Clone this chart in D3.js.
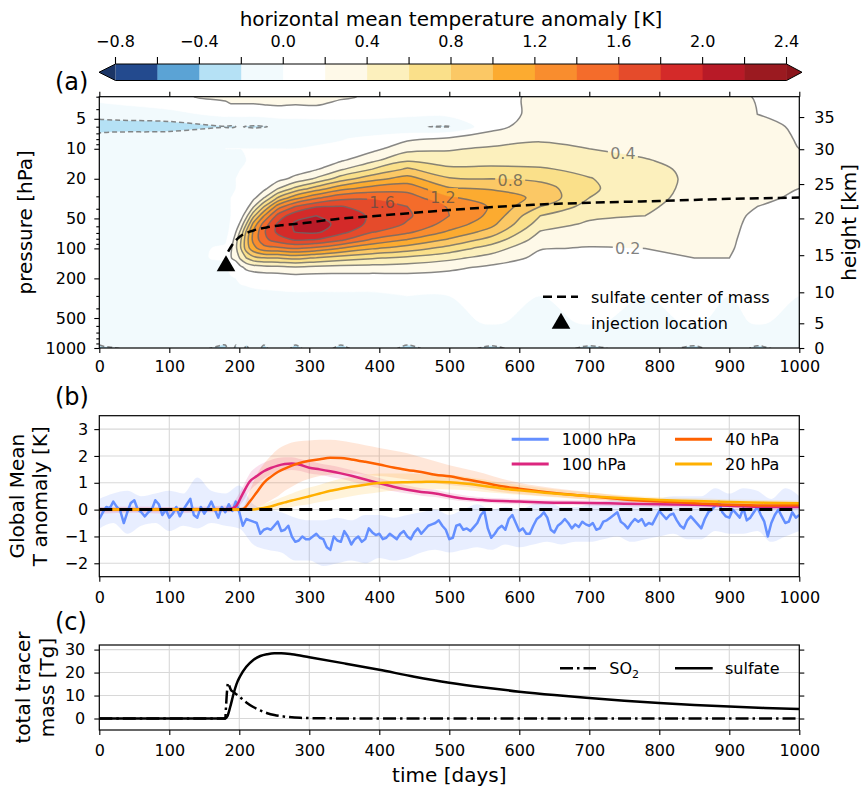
<!DOCTYPE html>
<html><head><meta charset="utf-8">
<script src="https://cdn.jsdelivr.net/npm/d3@7"></script>
<style>
body{margin:0;background:#fff;}
svg{display:block;font-family:"DejaVu Sans",sans-serif;}
</style></head><body>
<svg id="fig" width="862" height="789"></svg>
<script>
// ================= DATA =================
// colour bar
const cbBoundaries = [-0.8,-0.6,-0.4,-0.2,0.0,0.2,0.4,0.6,0.8,1.0,1.2,1.4,1.6,1.8,2.0,2.2,2.4];
const cbColors = ["#234a8e","#5ba3d5","#b5e1f5","#f2fafd","#ffffff","#fef9e8","#fcf0bd","#fae08a",
                  "#fbc865","#fcab30","#f98d2e","#f46c2b","#e54b2b","#d42a29","#b81a27","#9b1a20"];
const cbUnderColor = "#1b3566", cbOverColor = "#8b141b";
const cbLabelValues = [-0.8,-0.4,0.0,0.4,0.8,1.2,1.6,2.0,2.4];

// panel (a): horizontal-mean temperature anomaly, columns = days, rows = pressure levels
const tempDays = [0,100,180,188,195,202,210,220,235,255,280,310,345,390,440,500,560,630,700,780,850,900,940,1000];
const tempLevels = [3,4.5,6,8,10,13,16,20,25,31,38,47,57,68,82,100,125,155,200,300,550,1000];
const tempAnomaly = [
 [0.05,-0.1,-0.35,-0.05,0.0,-0.02,0.0,-0.03,-0.05,-0.03,-0.05,-0.04,-0.05,-0.05,-0.06,-0.05,-0.04,-0.06,-0.05,-0.06,-0.05,-0.22],
 [0.16,-0.06,-0.3,-0.04,-0.02,0.0,-0.03,-0.05,-0.03,-0.04,-0.05,-0.06,-0.05,-0.04,-0.05,-0.06,-0.05,-0.05,-0.06,-0.05,-0.06,-0.14],
 [0.25,0.05,-0.21,-0.03,0.0,-0.02,-0.03,-0.04,-0.04,-0.05,-0.04,-0.05,-0.04,-0.03,-0.02,0.02,0.02,-0.03,-0.05,-0.06,-0.05,-0.22],
 [0.3,0.05,-0.22,-0.03,0.0,-0.02,-0.02,-0.02,-0.01,0.0,0.0,0.0,0.01,0.02,0.06,0.17,0.19,0.06,-0.02,-0.05,-0.05,-0.15],
 [0.3,0.05,-0.2,-0.03,0.0,-0.01,-0.01,0.0,0.0,0.0,0.01,0.02,0.07,0.19,0.32,0.36,0.26,0.07,0.0,-0.04,-0.05,-0.22],
 [0.3,0.05,-0.19,-0.03,0.0,-0.01,0.0,0.0,0.0,0.01,0.03,0.1,0.26,0.45,0.58,0.59,0.44,0.16,0.02,-0.04,-0.05,-0.14],
 [0.3,0.05,-0.21,-0.02,0.0,0.0,0.0,0.0,0.0,0.02,0.11,0.33,0.6,0.83,0.91,0.89,0.6,0.25,0.03,-0.04,-0.05,-0.22],
 [0.3,0.05,-0.22,-0.02,0.0,0.0,0.0,0.0,0.03,0.14,0.37,0.74,1.06,1.22,1.25,1.13,0.73,0.3,0.05,-0.04,-0.05,-0.15],
 [0.32,0.06,-0.21,-0.02,0.0,0.0,0.0,0.03,0.14,0.39,0.79,1.19,1.48,1.57,1.54,1.32,0.79,0.33,0.07,-0.04,-0.05,-0.22],
 [0.33,0.08,-0.17,-0.02,0.0,0.0,0.03,0.13,0.39,0.81,1.3,1.67,1.83,1.85,1.7,1.35,0.8,0.35,0.07,-0.03,-0.05,-0.14],
 [0.3,0.08,-0.15,-0.02,0.0,0.02,0.09,0.26,0.65,1.13,1.6,1.94,2.03,2.01,1.82,1.41,0.85,0.38,0.1,-0.03,-0.05,-0.22],
 [0.3,0.1,-0.16,-0.02,0.01,0.05,0.18,0.43,0.89,1.36,1.79,2.0,2.06,2.04,1.79,1.34,0.78,0.35,0.09,-0.03,-0.05,-0.15],
 [0.22,0.1,-0.15,-0.01,0.04,0.17,0.37,0.7,1.13,1.54,1.81,1.94,1.96,1.87,1.64,1.19,0.7,0.33,0.1,-0.03,-0.05,-0.22],
 [0.18,0.08,-0.14,0.05,0.14,0.35,0.6,0.93,1.28,1.57,1.72,1.76,1.74,1.62,1.37,1.02,0.62,0.32,0.1,-0.03,-0.05,-0.14],
 [0.17,0.05,-0.19,0.17,0.33,0.57,0.83,1.08,1.32,1.5,1.6,1.63,1.58,1.45,1.19,0.9,0.55,0.31,0.11,0.0,-0.05,-0.22],
 [0.17,0.05,-0.21,0.25,0.38,0.5,0.64,0.82,1.02,1.22,1.38,1.4,1.32,1.17,0.97,0.72,0.45,0.25,0.1,0.0,-0.05,-0.15],
 [0.15,0.12,0.14,0.3,0.43,0.52,0.64,0.8,0.98,1.12,1.18,1.15,1.06,0.92,0.72,0.5,0.32,0.16,0.06,0.0,0.02,-0.22],
 [0.23,0.25,0.3,0.38,0.45,0.52,0.62,0.75,0.9,0.95,0.8,0.6,0.5,0.39,0.3,0.21,0.15,0.08,0.03,0.0,-0.05,-0.14],
 [0.28,0.3,0.31,0.34,0.4,0.47,0.55,0.61,0.63,0.6,0.52,0.44,0.37,0.3,0.24,0.19,0.14,0.09,0.04,0.0,0.02,-0.22],
 [0.27,0.28,0.3,0.32,0.35,0.41,0.45,0.48,0.48,0.47,0.44,0.4,0.33,0.28,0.23,0.2,0.17,0.12,0.06,0.0,-0.05,-0.15],
 [0.26,0.27,0.28,0.3,0.32,0.34,0.36,0.36,0.35,0.33,0.3,0.27,0.25,0.23,0.22,0.21,0.2,0.16,0.08,0.0,0.02,-0.22],
 [0.24,0.26,0.27,0.29,0.31,0.33,0.34,0.34,0.33,0.31,0.28,0.26,0.25,0.24,0.23,0.22,0.2,0.15,0.08,0.0,-0.05,-0.14],
 [0.19,0.2,0.24,0.26,0.28,0.31,0.32,0.31,0.28,0.24,0.2,0.16,0.14,0.13,0.12,0.11,0.1,0.07,0.03,0.0,0.02,-0.22],
 [0.17,0.18,0.18,0.19,0.2,0.24,0.26,0.24,0.2,0.17,0.14,0.12,0.11,0.1,0.1,0.09,0.08,0.06,0.03,0.0,-0.05,-0.15]
];
const contourLabelText = ["0.2","0.4","0.8","1.2","1.6"];
const contourLabelDay = [755,748,587,491,404];
const contourLabelPressure = [99,11.1,20.6,30.6,34.3];

const comDays = [184,190,201,215,239,260,287,334,406,501,620,700,800,900,1000];
const comPressure = [108,92,76,68,61.6,58.5,56.3,51.2,46.5,41.2,36.5,34.8,33.4,31.8,30.9];
const injectionDay = [181], injectionPressure = [150];

const pressureTicks = [5,10,20,50,100,200,500,1000];
const pressureMinorTicks = [3,4,6,7,8,9,30,40,60,70,80,90,300,400,600,700,800,900];
const heightTickKm = [0,5,10,15,20,25,30,35];
const heightTickPressure = [1000,565,276,117,50,22.6,10.1,4.8];
const dayTicks = [0,100,200,300,400,500,600,700,800,900,1000];

// panel (b): global mean T anomaly
const blueDays = d3.range(0,1001,5);
const t1000 = [
 -0.35,-0.1,0.1,0.05,0.3,0.1,-0.05,-0.5,-0.1,0.25,0.35,0.0,-0.1,-0.25,-0.1,0.0,0.35,0.2,-0.2,0.0,
 -0.3,-0.15,0.1,-0.25,0.0,0.2,0.4,-0.2,-0.3,0.1,-0.15,0.05,0.3,0.0,-0.3,0.1,-0.1,0.2,-0.05,0.3,
 -0.1,-0.6,-0.35,-0.4,-0.45,-0.5,-0.9,-0.75,-0.7,-0.75,-0.6,-0.45,-0.8,-0.75,-0.6,-1.0,-1.2,-1.15,-1.0,-1.1,
 -1.1,-1.0,-0.9,-1.05,-1.1,-1.4,-1.5,-1.0,-1.15,-1.2,-0.8,-1.0,-1.3,-1.1,-1.0,-1.2,-1.1,-0.7,-0.85,-0.95,
 -0.9,-1.1,-1.05,-0.9,-1.0,-1.1,-0.9,-0.8,-1.0,-1.1,-0.85,-0.7,-0.9,-0.75,-0.6,-0.55,-0.5,-0.4,-0.6,-0.75,
 -1.1,-1.05,-0.6,-0.55,-0.75,-0.7,-0.8,-0.65,-0.5,-0.2,-0.05,-0.7,-1.05,-0.9,-0.7,-0.6,-0.75,-0.35,-0.2,-0.5,
 -0.8,-0.7,-0.9,-0.9,-0.6,-0.35,-0.25,-0.1,-0.3,-0.75,-0.85,-0.6,-0.5,-0.35,-0.5,-0.7,-0.55,-0.65,-0.45,-0.55,
 -0.6,-0.5,-0.75,-0.7,-0.45,-0.4,-0.3,-0.2,-0.1,-0.45,-0.55,-0.7,-0.5,-0.35,-0.45,-0.35,-0.6,-0.5,-0.55,-0.3,
 -0.05,-0.2,-0.35,-0.2,-0.15,-0.4,-0.6,-0.7,-0.4,-0.25,-0.4,-0.55,-0.7,-0.35,-0.1,0.0,0.15,0.3,-0.1,-0.25,
 -0.3,0.0,-0.15,-0.3,0.05,-0.4,-0.3,-0.1,0.1,-0.2,-0.45,-1.0,-0.5,-0.2,0.0,-0.25,-0.5,-0.45,-0.1,-0.3,
 -0.2];
const blueBandDays = d3.range(0,1001,20);
const t1000Lo = [-0.7,-0.5,-0.9,-0.6,-0.5,-0.8,-0.6,-0.7,-0.5,-0.6,-0.7,-1.3,-1.5,-1.6,-1.9,-1.9,-2.1,-2.0,-1.9,-2.0,
 -1.8,-1.9,-1.8,-1.6,-1.5,-1.6,-1.5,-1.4,-1.5,-1.3,-1.4,-1.3,-1.2,-1.3,-1.2,-1.2,-1.1,-1.0,-1.2,-1.1,
 -1.0,-0.9,-1.1,-1.1,-0.8,-0.9,-0.9,-0.8,-1.2,-1.0,-0.8];
const t1000Hi = [0.4,0.6,0.7,0.5,0.6,0.7,0.6,1.2,0.7,0.6,0.9,0.2,0.0,-0.1,-0.3,-0.4,-0.4,-0.3,-0.4,-0.2,
 -0.2,-0.3,-0.2,-0.1,0.0,-0.2,0.0,0.2,0.0,0.1,0.0,0.2,0.3,0.1,0.1,0.2,0.3,0.4,0.3,0.2,
 0.4,0.5,0.5,0.5,0.8,0.6,0.8,0.7,0.4,0.8,0.5];

const bDays = [0,50,100,150,185,195,205,215,225,235,245,255,265,275,285,300,315,330,345,360,380,400,420,440,460,480,500,525,550,575,600,650,700,750,800,850,900,950,1000];
const t100 = [0,0,0,0,0.02,0.12,0.6,1.05,1.25,1.43,1.55,1.64,1.7,1.72,1.68,1.56,1.5,1.43,1.35,1.26,1.12,0.98,0.85,0.74,0.66,0.6,0.5,0.4,0.35,0.32,0.3,0.26,0.25,0.22,0.2,0.18,0.14,0.1,0.1];
const t100Lo = [-0.15,-0.12,-0.15,-0.1,-0.1,0.0,0.3,0.7,0.95,1.15,1.3,1.4,1.45,1.48,1.45,1.35,1.3,1.22,1.15,1.05,0.92,0.8,0.68,0.6,0.52,0.47,0.38,0.3,0.26,0.22,0.2,0.17,0.15,0.12,0.1,0.08,0.05,0.02,0.02];
const t100Hi = [0.1,0.12,0.1,0.12,0.15,0.4,0.85,1.35,1.6,1.75,1.85,1.92,1.95,1.95,1.9,1.8,1.72,1.65,1.57,1.48,1.33,1.18,1.03,0.9,0.8,0.74,0.63,0.52,0.45,0.42,0.4,0.36,0.35,0.32,0.3,0.28,0.24,0.2,0.2];
const t40 = [0,0,0,0,0,0,0.02,0.3,0.65,1.0,1.22,1.4,1.53,1.64,1.73,1.82,1.88,1.93,1.92,1.87,1.78,1.68,1.57,1.48,1.4,1.3,1.24,1.12,1.0,0.87,0.78,0.62,0.5,0.38,0.3,0.24,0.18,0.15,0.16];
const t40Lo = [-0.08,-0.08,-0.08,-0.08,-0.08,-0.08,-0.05,0.0,0.1,0.2,0.35,0.5,0.7,0.85,1.0,1.15,1.25,1.3,1.35,1.35,1.3,1.25,1.2,1.12,1.05,0.98,0.92,0.85,0.75,0.65,0.58,0.48,0.38,0.3,0.22,0.16,0.12,0.1,0.08];
const t40Hi = [0.08,0.08,0.08,0.08,0.08,0.08,0.1,0.7,1.3,1.7,2.0,2.25,2.4,2.5,2.55,2.58,2.6,2.6,2.57,2.5,2.4,2.3,2.2,2.1,1.95,1.8,1.65,1.5,1.35,1.15,1.0,0.8,0.65,0.5,0.4,0.32,0.26,0.22,0.24];
const t20 = [0,0,0,0,0,0,0,0,0.02,0.06,0.12,0.2,0.27,0.34,0.4,0.5,0.6,0.7,0.78,0.85,0.93,0.99,1.01,1.02,1.03,1.04,1.02,0.96,0.88,0.79,0.72,0.6,0.5,0.42,0.36,0.32,0.28,0.26,0.24];
const t20Lo = [-0.05,-0.05,-0.05,-0.05,-0.05,-0.05,-0.05,-0.05,-0.05,0.0,0.0,0.02,0.05,0.1,0.15,0.2,0.28,0.35,0.42,0.5,0.58,0.65,0.7,0.72,0.75,0.76,0.75,0.72,0.66,0.6,0.55,0.46,0.38,0.32,0.28,0.24,0.2,0.18,0.16];
const t20Hi = [0.05,0.05,0.05,0.05,0.05,0.05,0.05,0.05,0.1,0.2,0.3,0.4,0.5,0.6,0.7,0.82,0.93,1.05,1.15,1.22,1.3,1.35,1.35,1.35,1.33,1.32,1.3,1.22,1.12,1.0,0.92,0.76,0.64,0.54,0.46,0.42,0.38,0.36,0.34];
const bTicks = [-2,-1,0,1,2,3];

// panel (c): total tracer mass [Tg]
const sulfateDays = [0,180,183,187,192,196,201,210,220,230,240,250,260,275,300,350,400,450,500,550,600,650,700,750,800,850,900,950,1000];
const sulfateMass = [0,0,1,5,11,15,18.3,22.5,25.5,27.2,28.0,28.4,28.4,28.0,26.7,24.0,21.2,18.2,15.6,13.5,11.7,10.2,8.9,7.7,6.7,5.9,5.2,4.6,4.1];
const so2Days = [0,180,181,182.5,184,186,188,192,196,201,210,220,230,240,250,263,287,320,400,1000];
const so2Mass = [0,0,5,12,15.5,14,12.5,11.5,10.5,9.3,7.0,5.0,3.5,2.3,1.5,0.9,0.3,0.1,0,0];
const cTicks = [0,10,20,30];

// ================= LAYOUT =================
const svg = d3.select("#fig");
const defs = svg.append("defs");
const axL = 99.3, axR = 799.3;
const aTop = 96.7, aBot = 348;
const bTop = 415.7, bBot = 576.7;
const cTop = 645, cBot = 730;
const TICK = 16, LAB = 20;

const x = d3.scaleLinear().domain([0,1000]).range([axL,axR]);
const yA = d3.scaleLog().domain([1000,3]).range([aBot,aTop]);
const yB = d3.scaleLinear().domain([-2.5,3.5]).range([bBot,bTop]);
const yC = d3.scaleLinear().domain([-5,32]).range([cBot,cTop]);

function addClip(id,y0,y1){
  defs.append("clipPath").attr("id",id).append("rect")
    .attr("x",axL).attr("y",y0).attr("width",axR-axL).attr("height",y1-y0);
}
addClip("clipA",aTop,aBot); addClip("clipB",bTop,bBot); addClip("clipC",cTop,cBot);

function styleAxis(g){
  g.attr("font-family",null).attr("font-size",TICK);
  g.select(".domain").remove();
  g.selectAll(".tick line").attr("stroke","#000").attr("stroke-width",1.1);
  g.selectAll(".tick text").attr("fill","#000");
}
function frame(y0,y1){
  svg.append("rect").attr("x",axL).attr("y",y0).attr("width",axR-axL).attr("height",y1-y0)
    .attr("fill","none").attr("stroke","#000").attr("stroke-width",1.2);
}
const fmt1 = d3.format(".1f");

// ================= COLOUR BAR =================
const cb = d3.scaleLinear().domain([-0.8,2.4]).range([115.5,786.5]);
const cbTop = 64, cbBot = 80.5, cbMid = (cbTop+cbBot)/2;
const cbg = svg.append("g");
cbg.selectAll("rect").data(cbColors).join("rect")
  .attr("x",(d,i)=>cb(cbBoundaries[i])).attr("y",cbTop)
  .attr("width",(d,i)=>cb(cbBoundaries[i+1])-cb(cbBoundaries[i])+0.4).attr("height",cbBot-cbTop)
  .attr("fill",d=>d);
cbg.append("path").attr("d",`M${cb(-0.8)},${cbTop}L99,${cbMid}L${cb(-0.8)},${cbBot}Z`).attr("fill",cbUnderColor);
cbg.append("path").attr("d",`M${cb(2.4)},${cbTop}L802,${cbMid}L${cb(2.4)},${cbBot}Z`).attr("fill",cbOverColor);
cbg.append("path").attr("d",`M${cb(-0.8)},${cbTop}L${cb(2.4)},${cbTop}L802,${cbMid}L${cb(2.4)},${cbBot}L${cb(-0.8)},${cbBot}L99,${cbMid}Z`)
  .attr("fill","none").attr("stroke","#000").attr("stroke-width",1);
cbg.selectAll("line.cbt").data(cbBoundaries).join("line").attr("class","cbt")
  .attr("x1",d=>cb(d)).attr("x2",d=>cb(d)).attr("y1",cbTop).attr("y2",cbTop-7)
  .attr("stroke","#000").attr("stroke-width",1.1);
cbg.selectAll("text.cbl").data(cbLabelValues).join("text").attr("class","cbl")
  .attr("x",d=>cb(d)).attr("y",47).attr("text-anchor","middle").attr("font-size",TICK)
  .text(d=>fmt1(d));
svg.append("text").attr("x",(cb(-0.8)+cb(2.4))/2).attr("y",25.5).attr("text-anchor","middle")
  .attr("font-size",LAB).text("horizontal mean temperature anomaly [K]");

// ================= PANEL A =================
const nx = tempDays.length, ny = tempLevels.length;
const grid = new Array(nx*ny);
tempAnomaly.forEach((col,i)=>col.forEach((v,j)=>{ grid[i+j*nx] = v; }));
const contourLevels = cbBoundaries.slice(0,-1);
const contours = d3.contours().size([nx,ny]).thresholds(contourLevels)(grid);
const colIdx = d3.scaleLinear().domain(d3.range(nx)).range(tempDays);
const rowIdx = d3.scaleLinear().domain(d3.range(ny)).range(tempLevels.map(Math.log10));
const toPx = p => [x(colIdx(p[0]-0.5)), yA(Math.pow(10,rowIdx(p[1]-0.5)))];
const ringLine = d3.line().curve(d3.curveCatmullRomClosed.alpha(0.5));
function contourPath(c){
  let s = "";
  c.coordinates.forEach(poly=>poly.forEach(ring=>{
    const pts = ring.slice(0,-1).map(toPx);
    if(pts.length>2) s += ringLine(pts);
  }));
  return s || null;
}
const plotA = svg.append("g").attr("clip-path","url(#clipA)");
plotA.append("rect").attr("x",axL).attr("y",aTop).attr("width",axR-axL).attr("height",aBot-aTop).attr("fill","#fff");
plotA.selectAll("path.cf").data(contours).join("path").attr("class","cf")
  .attr("d",contourPath).attr("fill",(d,i)=>cbColors[i]).attr("fill-rule","evenodd")
  .attr("stroke",(d,i)=>cbColors[i]).attr("stroke-width",0.6);

// label mask
const labelPos = contourLabelText.map((t,i)=>({t, px:x(contourLabelDay[i]), py:yA(contourLabelPressure[i])}));
const mask = defs.append("mask").attr("id","lblMask").attr("maskUnits","userSpaceOnUse")
  .attr("x",0).attr("y",0).attr("width",862).attr("height",789);
mask.append("rect").attr("x",0).attr("y",0).attr("width",862).attr("height",789).attr("fill","#fff");
mask.selectAll("rect.h").data(labelPos).join("rect").attr("class","h")
  .attr("x",d=>d.px-15).attr("y",d=>d.py-9).attr("width",30).attr("height",18).attr("fill","#000");

const lineG = plotA.append("g").attr("mask","url(#lblMask)");
lineG.selectAll("path").data(contours.filter(c=>c.value!==0 && c.value>-0.75)).join("path")
  .attr("d",contourPath).attr("fill","none").attr("stroke","#6a6a6a").attr("stroke-opacity",0.8)
  .attr("stroke-width",1.5).attr("stroke-dasharray",d=>d.value<0?"5,3":null);
plotA.selectAll("text.cl").data(labelPos).join("text").attr("class","cl")
  .attr("x",d=>d.px).attr("y",d=>d.py).attr("dy","0.36em").attr("text-anchor","middle")
  .attr("font-size",TICK).attr("fill","#4a4a4a").attr("fill-opacity",0.7).text(d=>d.t);

// sulfate centre of mass + injection
const comLine = d3.line().x(d=>x(d[0])).y(d=>yA(d[1])).curve(d3.curveMonotoneX);
plotA.append("path").attr("d",comLine(comDays.map((d,i)=>[d,comPressure[i]])))
  .attr("fill","none").attr("stroke","#000").attr("stroke-width",2.5).attr("stroke-dasharray","9,5");
const tri = d3.symbol(d3.symbolTriangle).size(150);
svg.selectAll("path.inj").data(injectionDay).join("path").attr("class","inj")
  .attr("transform",(d,i)=>`translate(${x(d)},${yA(injectionPressure[i])})`).attr("d",tri()).attr("fill","#000");

// axes A
svg.append("g").attr("transform",`translate(0,${aBot})`)
  .call(d3.axisBottom(x).tickValues(dayTicks).tickSize(5).tickPadding(7.5).tickFormat(d3.format("d"))).call(styleAxis);
svg.append("g").attr("transform",`translate(0,${aTop})`)
  .call(d3.axisTop(x).tickValues(dayTicks).tickSize(5).tickFormat("")).call(styleAxis);
svg.append("g").attr("transform",`translate(${axL},0)`)
  .call(d3.axisLeft(yA).tickValues(pressureTicks).tickSize(5).tickPadding(8).tickFormat(d3.format("d"))).call(styleAxis);
svg.append("g").attr("transform",`translate(${axL},0)`)
  .call(d3.axisLeft(yA).tickValues(pressureMinorTicks).tickSize(3).tickFormat("")).call(styleAxis);
svg.append("g").attr("transform",`translate(${axR},0)`)
  .call(d3.axisRight(yA).tickValues(heightTickPressure).tickSize(5).tickPadding(10).tickFormat((d,i)=>heightTickKm[i])).call(styleAxis);
frame(aTop,aBot);
svg.append("text").attr("transform",`translate(32,${(aTop+aBot)/2}) rotate(-90)`).attr("text-anchor","middle")
  .attr("font-size",LAB).text("pressure [hPa]");
svg.append("text").attr("transform",`translate(856,${(aTop+aBot)/2}) rotate(-90)`).attr("text-anchor","middle")
  .attr("font-size",LAB).text("height [km]");
svg.append("text").attr("x",55).attr("y",90).attr("font-size",24).text("(a)");

// legend A
svg.append("line").attr("x1",543).attr("x2",578).attr("y1",296.7).attr("y2",296.7)
  .attr("stroke","#000").attr("stroke-width",2.5).attr("stroke-dasharray","9,5");
svg.append("text").attr("x",591).attr("y",302.5).attr("font-size",TICK).text("sulfate center of mass");
svg.append("path").attr("transform","translate(561,323.5)").attr("d",tri()).attr("fill","#000");
svg.append("text").attr("x",591).attr("y",329).attr("font-size",TICK).text("injection location");

// ================= PANEL B =================
const plotB = svg.append("g").attr("clip-path","url(#clipB)");
plotB.selectAll("line.gx").data(dayTicks).join("line").attr("class","gx")
  .attr("x1",d=>x(d)).attr("x2",d=>x(d)).attr("y1",bTop).attr("y2",bBot).attr("stroke","#d8d8d8").attr("stroke-width",1.1);
plotB.selectAll("line.gy").data(bTicks).join("line").attr("class","gy")
  .attr("x1",axL).attr("x2",axR).attr("y1",d=>yB(d)).attr("y2",d=>yB(d)).attr("stroke","#d8d8d8").attr("stroke-width",1.1);

const cBlue = "#648fff", cMag = "#dc267f", cOra = "#fe6100", cGold = "#ffb000";
const band = d3.area().x(d=>x(d[0])).y0(d=>yB(d[1])).y1(d=>yB(d[2])).curve(d3.curveMonotoneX);
plotB.append("path").attr("d",band(blueBandDays.map((d,i)=>[d,t1000Lo[i],t1000Hi[i]]))).attr("fill",cBlue).attr("fill-opacity",0.15);
plotB.append("path").attr("d",band(bDays.map((d,i)=>[d,t100Lo[i],t100Hi[i]]))).attr("fill",cMag).attr("fill-opacity",0.15);
plotB.append("path").attr("d",band(bDays.map((d,i)=>[d,t40Lo[i],t40Hi[i]]))).attr("fill",cOra).attr("fill-opacity",0.15);
plotB.append("path").attr("d",band(bDays.map((d,i)=>[d,t20Lo[i],t20Hi[i]]))).attr("fill",cGold).attr("fill-opacity",0.15);

const lineLin = d3.line().x(d=>x(d[0])).y(d=>yB(d[1]));
const lineSm = d3.line().x(d=>x(d[0])).y(d=>yB(d[1])).curve(d3.curveMonotoneX);
plotB.append("path").attr("d",lineLin(blueDays.map((d,i)=>[d,t1000[i]]))).attr("fill","none").attr("stroke",cBlue).attr("stroke-width",2.5).attr("stroke-linejoin","round");
plotB.append("path").attr("d",lineSm(bDays.map((d,i)=>[d,t100[i]]))).attr("fill","none").attr("stroke",cMag).attr("stroke-width",2.5);
plotB.append("path").attr("d",lineSm(bDays.map((d,i)=>[d,t40[i]]))).attr("fill","none").attr("stroke",cOra).attr("stroke-width",2.5);
plotB.append("path").attr("d",lineSm(bDays.map((d,i)=>[d,t20[i]]))).attr("fill","none").attr("stroke",cGold).attr("stroke-width",2.5);
plotB.append("line").attr("x1",x(0)).attr("x2",x(1000)).attr("y1",yB(0)).attr("y2",yB(0))
  .attr("stroke","#000").attr("stroke-width",3).attr("stroke-dasharray","13,7");

svg.append("g").attr("transform",`translate(0,${bBot})`)
  .call(d3.axisBottom(x).tickValues(dayTicks).tickSize(5).tickPadding(10).tickFormat(d3.format("d"))).call(styleAxis);
svg.append("g").attr("transform",`translate(${axL},0)`)
  .call(d3.axisLeft(yB).tickValues(bTicks).tickSize(5).tickPadding(6).tickFormat(d3.format("d"))).call(styleAxis);
svg.append("g").attr("transform",`translate(${axR},0)`)
  .call(d3.axisRight(yB).tickValues(bTicks).tickSize(5).tickFormat("")).call(styleAxis);
frame(bTop,bBot);
const bMid = (bTop+bBot)/2;
svg.append("text").attr("transform",`translate(23.5,${bMid}) rotate(-90)`).attr("text-anchor","middle").attr("font-size",LAB).text("Global Mean");
svg.append("text").attr("transform",`translate(47,${bMid}) rotate(-90)`).attr("text-anchor","middle").attr("font-size",LAB).text("T anomaly [K]");
svg.append("text").attr("x",55).attr("y",405).attr("font-size",24).text("(b)");

// legend B
const legB = [
  {c:cBlue,t:"1000 hPa",x0:511.7,y0:439.3},{c:cOra,t:"40 hPa",x0:675,y0:439.3},
  {c:cMag,t:"100 hPa",x0:511.7,y0:464},{c:cGold,t:"20 hPa",x0:675,y0:464}];
legB.forEach(d=>{
  svg.append("line").attr("x1",d.x0).attr("x2",d.x0+37).attr("y1",d.y0).attr("y2",d.y0).attr("stroke",d.c).attr("stroke-width",3);
  svg.append("text").attr("x",d.x0+50).attr("y",d.y0+5.8).attr("font-size",TICK).text(d.t);
});

// ================= PANEL C =================
const plotC = svg.append("g").attr("clip-path","url(#clipC)");
plotC.selectAll("line.gx").data(dayTicks).join("line").attr("class","gx")
  .attr("x1",d=>x(d)).attr("x2",d=>x(d)).attr("y1",cTop).attr("y2",cBot).attr("stroke","#d8d8d8").attr("stroke-width",1.1);
plotC.selectAll("line.gy").data(cTicks).join("line").attr("class","gy")
  .attr("x1",axL).attr("x2",axR).attr("y1",d=>yC(d)).attr("y2",d=>yC(d)).attr("stroke","#d8d8d8").attr("stroke-width",1.1);
const lineC = d3.line().x(d=>x(d[0])).y(d=>yC(d[1])).curve(d3.curveMonotoneX);
plotC.append("path").attr("d",lineC(so2Days.map((d,i)=>[d,so2Mass[i]]))).attr("fill","none")
  .attr("stroke","#000").attr("stroke-width",2.5).attr("stroke-dasharray","13,4,2.5,4");
plotC.append("path").attr("d",lineC(sulfateDays.map((d,i)=>[d,sulfateMass[i]]))).attr("fill","none")
  .attr("stroke","#000").attr("stroke-width",2.5);

svg.append("g").attr("transform",`translate(0,${cBot})`)
  .call(d3.axisBottom(x).tickValues(dayTicks).tickSize(5).tickPadding(10).tickFormat(d3.format("d"))).call(styleAxis);
svg.append("g").attr("transform",`translate(${axL},0)`)
  .call(d3.axisLeft(yC).tickValues(cTicks).tickSize(5).tickPadding(9).tickFormat(d3.format("d"))).call(styleAxis);
svg.append("g").attr("transform",`translate(${axR},0)`)
  .call(d3.axisRight(yC).tickValues(cTicks).tickSize(5).tickFormat("")).call(styleAxis);
frame(cTop,cBot);
const cMid = (cTop+cBot)/2;
svg.append("text").attr("transform",`translate(30,${cMid}) rotate(-90)`).attr("text-anchor","middle").attr("font-size",LAB).text("total tracer");
svg.append("text").attr("transform",`translate(53.5,${cMid}) rotate(-90)`).attr("text-anchor","middle").attr("font-size",LAB).text("mass [Tg]");
svg.append("text").attr("x",55).attr("y",630).attr("font-size",24).text("(c)");
svg.append("text").attr("x",(axL+axR)/2).attr("y",782).attr("text-anchor","middle").attr("font-size",LAB).text("time [days]");

// legend C
svg.append("line").attr("x1",560).attr("x2",596).attr("y1",668.3).attr("y2",668.3).attr("stroke","#000").attr("stroke-width",2.5).attr("stroke-dasharray","13,4,2.5,4");
const so2t = svg.append("text").attr("x",609.3).attr("y",674).attr("font-size",TICK);
so2t.append("tspan").text("SO");
so2t.append("tspan").attr("font-size",11).attr("dy",4).text("2");
svg.append("line").attr("x1",675).attr("x2",712.7).attr("y1",668.3).attr("y2",668.3).attr("stroke","#000").attr("stroke-width",2.5);
svg.append("text").attr("x",725).attr("y",674).attr("font-size",TICK).text("sulfate");
</script></body></html>
